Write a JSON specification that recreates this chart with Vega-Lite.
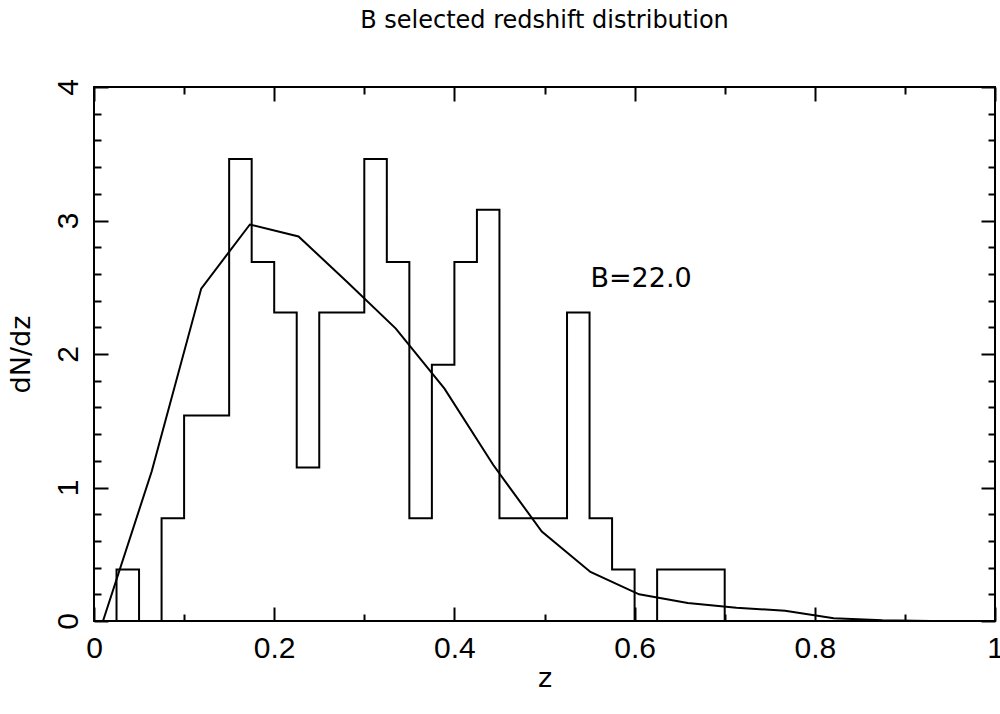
{
  "$schema": "https://vega.github.io/schema/vega-lite/v6.json",
  "width": 901,
  "height": 534,
  "autosize": {"type": "none"},
  "padding": {"left": 94, "top": 87, "right": 5, "bottom": 93},
  "background": "white",
  "config": {
    "view": {"stroke": "black", "strokeWidth": 2},
    "axis": {"grid": false, "domain": false, "tickColor": "black", "labelColor": "black", "titleColor": "black", "tickWidth": 2, "labelFlush": false, "labelOverlap": false}
  },
  "title": {"text": "B selected redshift distribution", "font": "DejaVu Sans", "fontSize": 24, "fontWeight": "normal", "color": "black", "anchor": "middle", "baseline": "alphabetic", "offset": 27},
  "datasets": {
    "hist": [
      {"z": 0, "dndz": 0},
      {"z": 0.025, "dndz": 0.385},
      {"z": 0.05, "dndz": 0},
      {"z": 0.075, "dndz": 0.77},
      {"z": 0.1, "dndz": 1.54},
      {"z": 0.125, "dndz": 1.54},
      {"z": 0.15, "dndz": 3.46},
      {"z": 0.175, "dndz": 2.69},
      {"z": 0.2, "dndz": 2.31},
      {"z": 0.225, "dndz": 1.15},
      {"z": 0.25, "dndz": 2.31},
      {"z": 0.275, "dndz": 2.31},
      {"z": 0.3, "dndz": 3.46},
      {"z": 0.325, "dndz": 2.69},
      {"z": 0.35, "dndz": 0.77},
      {"z": 0.375, "dndz": 1.92},
      {"z": 0.4, "dndz": 2.69},
      {"z": 0.425, "dndz": 3.08},
      {"z": 0.45, "dndz": 0.77},
      {"z": 0.475, "dndz": 0.77},
      {"z": 0.5, "dndz": 0.77},
      {"z": 0.525, "dndz": 2.31},
      {"z": 0.55, "dndz": 0.77},
      {"z": 0.575, "dndz": 0.385},
      {"z": 0.6, "dndz": 0},
      {"z": 0.625, "dndz": 0.385},
      {"z": 0.65, "dndz": 0.385},
      {"z": 0.675, "dndz": 0.385},
      {"z": 0.7, "dndz": 0}
    ],
    "curve": [
      {"z": 0.01, "dndz": 0},
      {"z": 0.064, "dndz": 1.12},
      {"z": 0.119, "dndz": 2.49},
      {"z": 0.173, "dndz": 2.97},
      {"z": 0.227, "dndz": 2.88},
      {"z": 0.281, "dndz": 2.54},
      {"z": 0.335, "dndz": 2.19},
      {"z": 0.389, "dndz": 1.74},
      {"z": 0.443, "dndz": 1.17},
      {"z": 0.497, "dndz": 0.67},
      {"z": 0.551, "dndz": 0.367},
      {"z": 0.605, "dndz": 0.2},
      {"z": 0.659, "dndz": 0.135},
      {"z": 0.713, "dndz": 0.1},
      {"z": 0.767, "dndz": 0.077},
      {"z": 0.821, "dndz": 0.02},
      {"z": 0.875, "dndz": 0.005},
      {"z": 0.929, "dndz": 0}
    ],
    "label": [{"z": 0.551, "dndz": 2.5, "text": "B=22.0"}]
  },
  "layer": [
    {
      "data": {"name": "hist"},
      "mark": {"type": "line", "interpolate": "step-after", "color": "black", "strokeWidth": 2},
      "encoding": {
        "x": {"field": "z", "type": "quantitative", "scale": {"domain": [0, 1], "nice": false, "zero": false},
          "axis": {"orient": "bottom", "values": [0, 0.2, 0.4, 0.6, 0.8, 1], "format": "~g", "ticks": false, "labelFont": "Liberation Sans", "labelFontSize": 30, "labelBaseline": "alphabetic", "labelPadding": 36, "title": "z", "titleFont": "DejaVu Sans", "titleFontSize": 27, "titleFontWeight": "normal", "titleBaseline": "alphabetic", "titlePadding": 23}},
        "y": {"field": "dndz", "type": "quantitative", "scale": {"domain": [0, 4], "nice": false, "zero": false},
          "axis": {"orient": "left", "values": [0, 1, 2, 3, 4], "format": "d", "ticks": false, "labelAngle": -90, "labelAlign": "center", "labelBaseline": "alphabetic", "labelFont": "Liberation Sans", "labelFontSize": 30, "labelPadding": 17, "title": "dN/dz", "titleFont": "DejaVu Sans", "titleFontSize": 27, "titleFontWeight": "normal", "titleAngle": -90, "titleBaseline": "alphabetic", "titlePadding": 24}}
      }
    },
    {
      "data": {"name": "curve"},
      "mark": {"type": "line", "color": "black", "strokeWidth": 2},
      "encoding": {
        "x": {"field": "z", "type": "quantitative", "scale": {"domain": [0, 1], "nice": false, "zero": false},
          "axis": {"orient": "bottom", "values": [0, 0.2, 0.4, 0.6, 0.8, 1], "tickSize": -14, "labels": false, "title": null}},
        "y": {"field": "dndz", "type": "quantitative", "scale": {"domain": [0, 4], "nice": false, "zero": false},
          "axis": {"orient": "left", "values": [0, 1, 2, 3, 4], "tickSize": -14, "labels": false, "title": null}}
      }
    },
    {
      "data": {"name": "label"},
      "mark": {"type": "text", "align": "left", "baseline": "alphabetic", "font": "DejaVu Sans", "fontSize": 27, "color": "black"},
      "encoding": {
        "x": {"field": "z", "type": "quantitative", "scale": {"domain": [0, 1], "nice": false, "zero": false},
          "axis": {"orient": "top", "values": [0, 0.2, 0.4, 0.6, 0.8, 1], "tickSize": -14, "labels": false, "title": null}},
        "y": {"field": "dndz", "type": "quantitative", "scale": {"domain": [0, 4], "nice": false, "zero": false},
          "axis": {"orient": "right", "values": [0, 1, 2, 3, 4], "tickSize": -14, "labels": false, "title": null}},
        "text": {"field": "text", "type": "nominal"}
      }
    },
    {
      "data": {"name": "hist"},
      "mark": {"type": "line", "interpolate": "step-after", "color": "black", "strokeOpacity": 0},
      "encoding": {
        "x": {"field": "z", "type": "quantitative", "scale": {"domain": [0, 1], "nice": false, "zero": false},
          "axis": {"orient": "bottom", "values": [0.1, 0.3, 0.5, 0.7, 0.9], "tickSize": -7, "labels": false, "title": null}},
        "y": {"field": "dndz", "type": "quantitative", "scale": {"domain": [0, 4], "nice": false, "zero": false},
          "axis": {"orient": "left", "values": [0.2, 0.4, 0.6, 0.8, 1.2, 1.4, 1.6, 1.8, 2.2, 2.4, 2.6, 2.8, 3.2, 3.4, 3.6, 3.8], "tickSize": -7, "labels": false, "title": null}}
      }
    },
    {
      "data": {"name": "curve"},
      "mark": {"type": "line", "color": "black", "strokeOpacity": 0},
      "encoding": {
        "x": {"field": "z", "type": "quantitative", "scale": {"domain": [0, 1], "nice": false, "zero": false},
          "axis": {"orient": "top", "values": [0.1, 0.3, 0.5, 0.7, 0.9], "tickSize": -7, "labels": false, "title": null}},
        "y": {"field": "dndz", "type": "quantitative", "scale": {"domain": [0, 4], "nice": false, "zero": false},
          "axis": {"orient": "right", "values": [0.2, 0.4, 0.6, 0.8, 1.2, 1.4, 1.6, 1.8, 2.2, 2.4, 2.6, 2.8, 3.2, 3.4, 3.6, 3.8], "tickSize": -7, "labels": false, "title": null}}
      }
    }
  ],
  "resolve": {"axis": {"x": "independent", "y": "independent"}}
}
